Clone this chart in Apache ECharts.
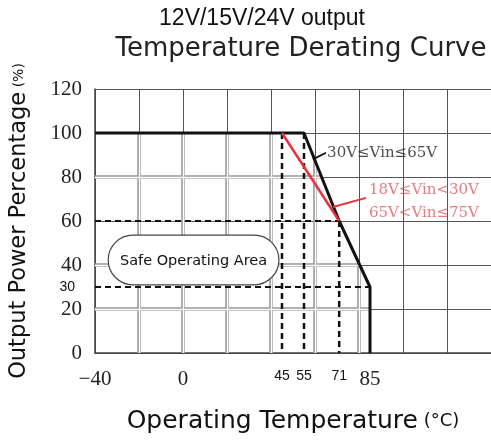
<!DOCTYPE html>
<html><head><meta charset="utf-8">
<script src="https://cdn.jsdelivr.net/npm/echarts@6/dist/echarts.min.js"></script>
<style>html,body{margin:0;padding:0;background:#fff}#c{width:491px;height:444px}</style>
</head><body><div id="c"></div>
<script>
// ---- data ----
const xTickLabels = [-40, 0, 45, 55, 71, 85];
const yTickLabels = [0, 20, 30, 40, 60, 80, 100, 120];
const smallXLabels = [45, 55, 71];
const smallYLabels = [30];
const curve30to65 = [[-40, 100], [55, 100], [71, 60], [85, 30], [85, 0]];
const curveOther = [[45, 100], [71, 60]];
const dashH60 = [[-40, 60], [71, 60]];
const dashH30 = [[-40, 30], [85, 30]];
const dashV45 = [[45, 100], [45, 0]];
const dashV55 = [[55, 100], [55, 0]];
const dashV71 = [[71, 60], [71, 0]];
const leaderBlack = [[59, 88], [65, 91]];
const leaderRed = [[68.2, 66.4], [83.2, 70.5]];
const labelBlack = [[65.5, 90.9]];
const labelRed1 = [[109.5, 74.1]];
const labelRed2 = [[109.5, 63.6]];
const safeBox = { x0: -34, x1: 43.6, y0: 53.6, y1: 31 };
// doubled grid lines inside the safe operating area (decoration)
const innerGrid = [
  [[-20, 0], [-20, 100]], [[0, 0], [0, 100]], [[20, 0], [20, 100]], [[40, 0], [40, 100]],
  [[60, 0], [60, 87.5]], [[80, 0], [80, 40.7]],
  [[-40, 20], [85, 20]], [[-40, 40], [80.3, 40]], [[-40, 80], [63, 80]]
];

const chart = echarts.init(document.getElementById('c'), null, { renderer: 'canvas' });

function lineSeries(data, color, width, type, z) {
  return { type: 'line', data: data, symbol: 'none', silent: true, z: z || 3,
    lineStyle: { color: color, width: width, type: type || 'solid' }, animation: false };
}
function textPoint(data, text, color, font, pos) {
  return { type: 'scatter', data: data, symbolSize: 0, silent: true, z: 6, animation: false,
    label: { show: true, position: pos, distance: 0, formatter: text, color: color,
      fontFamily: font.family, fontSize: font.size } };
}
function segSeries(segs, color, width, z) {
  return { type: 'lines', coordinateSystem: 'cartesian2d', silent: true, z: z, animation: false,
    data: segs.map(s => ({ coords: s })), lineStyle: { color: color, width: width, opacity: 1 } };
}

const option = {
  animation: false,
  grid: { left: 95, right: 0, top: 89, bottom: 91, containLabel: false },
  xAxis: {
    type: 'value', min: -40, max: 140, interval: 20,
    name: '{a|Operating Temperature}{b| (°C)}',
    nameLocation: 'middle', nameGap: 56,
    nameTextStyle: { rich: {
      a: { fontFamily: 'DejaVu Sans', fontSize: 25, color: '#111' },
      b: { fontFamily: 'DejaVu Sans', fontSize: 18, color: '#111' } } },
    axisLine: { show: true, onZero: false, lineStyle: { color: '#444', width: 1.5 } },
    axisTick: { show: false },
    splitLine: { show: true, lineStyle: { color: '#555', width: 1 } },
    axisLabel: {
      customValues: xTickLabels, margin: 16,
      formatter: v => smallXLabels.includes(v) ? '{s|' + v + '}' : '{r|' + (v < 0 ? '\u2212' + (-v) : v) + '}',
      rich: {
        s: { fontFamily: 'Liberation Sans', fontSize: 14, color: '#111' },
        r: { fontFamily: 'Liberation Serif', fontSize: 21, color: '#222' } }
    }
  },
  yAxis: {
    type: 'value', min: 0, max: 120, interval: 20,
    name: '{a|Output Power Percentage}{b| (%)}',
    nameLocation: 'middle', nameGap: 64, nameRotate: 90,
    nameTextStyle: { rich: {
      a: { fontFamily: 'DejaVu Sans', fontSize: 22.5, color: '#111' },
      b: { fontFamily: 'DejaVu Sans', fontSize: 14, color: '#111' } } },
    axisLine: { show: true, onZero: false, lineStyle: { color: '#444', width: 1.5 } },
    axisTick: { show: false },
    splitLine: { show: true, lineStyle: { color: '#555', width: 1 } },
    axisLabel: {
      customValues: yTickLabels, margin: 13,
      formatter: v => smallYLabels.includes(v) ? '{s|' + v + '}' : '{r|' + v + '}',
      rich: {
        s: { fontFamily: 'Liberation Sans', fontSize: 14, color: '#111', padding: [0, 7, 0, 0] },
        r: { fontFamily: 'Liberation Serif', fontSize: 21, color: '#222' } }
    }
  },
  series: [
    segSeries(innerGrid, '#999999', 3.6, 1),
    segSeries(innerGrid, '#ffffff', 1.4, 2),
    lineSeries(dashH60, '#111', 2, [6, 4], 3),
    lineSeries(dashH30, '#111', 2, [6, 4], 3),
    lineSeries(dashV45, '#111', 2.5, [6, 4], 3),
    lineSeries(dashV55, '#111', 2.5, [6, 4], 3),
    lineSeries(dashV71, '#111', 2.5, [6, 4], 3),
    lineSeries(curve30to65, '#111', 3, 'solid', 4),
    lineSeries(curveOther, '#e8323c', 2.5, 'solid', 5),
    lineSeries(leaderBlack, '#111', 1.8, 'solid', 5),
    lineSeries(leaderRed, '#e8323c', 2, 'solid', 5),
    textPoint(labelBlack, '30V≤Vin≤65V', '#222', { family: 'DejaVu Serif', size: 15 }, 'right'),
    textPoint(labelRed1, '18V≤Vin<30V', '#e05a62', { family: 'DejaVu Serif', size: 15 }, 'inside'),
    textPoint(labelRed2, '65V<Vin≤75V', '#e05a62', { family: 'DejaVu Serif', size: 15 }, 'inside')
  ]
};
chart.setOption(option);

// Safe Operating Area callout placed in data coordinates
const p0 = chart.convertToPixel({ gridIndex: 0 }, [safeBox.x0, safeBox.y0]);
const p1 = chart.convertToPixel({ gridIndex: 0 }, [safeBox.x1, safeBox.y1]);
const w = p1[0] - p0[0], h = p1[1] - p0[1];
chart.setOption({ graphic: [
  { type: 'text', x: 262, y: 19, silent: true,
    style: { text: '12V/15V/24V output', font: '23px "Liberation Sans"', fill: '#111', align: 'center', verticalAlign: 'middle' } },
  { type: 'text', x: 301, y: 49, silent: true,
    style: { text: 'Temperature Derating Curve', font: '26px "DejaVu Sans"', fill: '#222', align: 'center', verticalAlign: 'middle' } },
  { type: 'rect', z: 10, silent: true, shape: { x: p0[0], y: p0[1], width: w, height: h, r: h / 2 },
    style: { fill: '#fff', stroke: '#444', lineWidth: 1.2 } },
  { type: 'text', z: 11, silent: true, x: p0[0] + w / 2, y: p0[1] + h / 2 + 1,
    style: { text: 'Safe Operating Area', font: '14.5px "DejaVu Sans"', fill: '#111', align: 'center', verticalAlign: 'middle' } }
] });
</script>
</body></html>
